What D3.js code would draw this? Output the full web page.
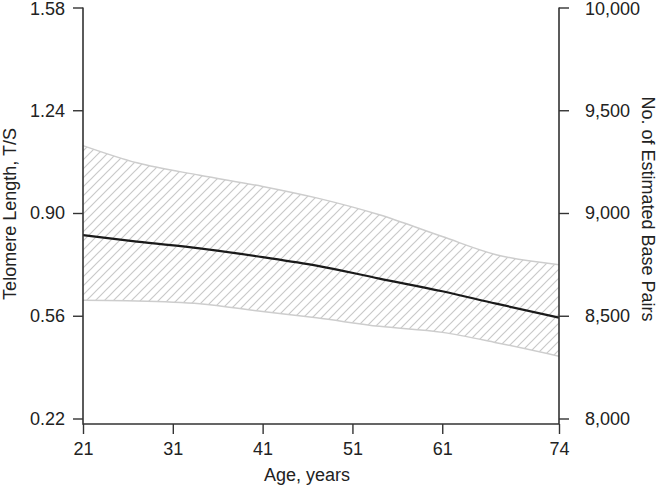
<!DOCTYPE html>
<html>
<head>
<meta charset="utf-8">
<script src="https://cdn.jsdelivr.net/npm/d3@7/dist/d3.min.js"></script>
<style>
  html, body { margin: 0; padding: 0; background: #fff; }
  svg { display: block; }
  text { font-family: "Liberation Sans", Arial, Helvetica, sans-serif; fill: #222; }
</style>
</head>
<body>
<svg id="chart" width="660" height="486"></svg>
<script>
// ---- data ----
const ages    = [21, 27, 34, 41, 47, 54, 61, 67, 74];
const tsMean  = [0.827, 0.805, 0.783, 0.754, 0.726, 0.683, 0.641, 0.600, 0.554];
const tsUpper = [1.123, 1.066, 1.025, 0.988, 0.950, 0.894, 0.822, 0.762, 0.729];
const tsLower = [0.611, 0.609, 0.600, 0.574, 0.553, 0.525, 0.505, 0.471, 0.426];

const xTicks      = [21, 31, 41, 51, 61, 74];
const yTicksLeft  = [0.22, 0.56, 0.90, 1.24, 1.58];
const yTicksRight = [8000, 8500, 9000, 9500, 10000];

const xTitle      = "Age, years";
const yLeftTitle  = "Telomere Length, T/S";
const yRightTitle = "No. of Estimated Base Pairs";

// ---- layout ----
const svg = d3.select("#chart");
const L = 83, R = 559, T = 7.5, B = 418.5, axisY = 424;
const fontSize = 18;

const x  = d3.scaleLinear().domain([21, 74]).range([L, R]);
const yL = d3.scaleLinear().domain([0.22, 1.58]).range([B, T]);
const yR = d3.scaleLinear().domain([8000, 10000]).range([B, T]);

// hatch pattern
const defs = svg.append("defs");
const pat = defs.append("pattern")
  .attr("id", "hatch")
  .attr("patternUnits", "userSpaceOnUse")
  .attr("width", 9).attr("height", 9);
pat.append("path")
  .attr("d", "M-1,1 l2,-2 M0,9 l9,-9 M8,10 l2,-2")
  .attr("stroke", "#c9c9c9")
  .attr("stroke-width", 1.2)
  .attr("fill", "none");

const rows = ages.map((a, i) => ({ a, m: tsMean[i], u: tsUpper[i], l: tsLower[i] }));
const curve = d3.curveMonotoneX;

// band
svg.append("path")
  .datum(rows)
  .attr("d", d3.area().x(d => x(d.a)).y0(d => yL(d.l)).y1(d => yL(d.u)).curve(curve))
  .attr("fill", "url(#hatch)")
  .attr("stroke", "none");
svg.append("path")
  .datum(rows)
  .attr("d", d3.line().x(d => x(d.a)).y(d => yL(d.u)).curve(curve))
  .attr("fill", "none").attr("stroke", "#cdcdcd").attr("stroke-width", 1.5);
svg.append("path")
  .datum(rows)
  .attr("d", d3.line().x(d => x(d.a)).y(d => yL(d.l)).curve(curve))
  .attr("fill", "none").attr("stroke", "#cdcdcd").attr("stroke-width", 1.5);

// mean line
svg.append("path")
  .datum(rows)
  .attr("d", d3.line().x(d => x(d.a)).y(d => yL(d.m)).curve(curve))
  .attr("fill", "none").attr("stroke", "#1a1a1a").attr("stroke-width", 2.2);

// axes
const axisColor = "#333";
function styleAxis(g) {
  g.select(".domain").remove();
  g.selectAll(".tick line").attr("stroke", axisColor).attr("stroke-width", 1.4);
  g.selectAll(".tick text").attr("font-size", fontSize).style("fill", "#222")
    .attr("font-family", "Liberation Sans, Arial, Helvetica, sans-serif");
}

const gl = svg.append("g")
  .attr("transform", `translate(${L},0)`)
  .call(d3.axisLeft(yL).tickValues(yTicksLeft).tickSize(10).tickPadding(8).tickFormat(d3.format(".2f")))
  .call(styleAxis);

const gr = svg.append("g")
  .attr("transform", `translate(${R},0)`)
  .call(d3.axisRight(yR).tickValues(yTicksRight).tickSize(10).tickPadding(16).tickFormat(d3.format(",")))
  .call(styleAxis);

// nudge the top-most tick labels slightly down so they sit inside the frame
gl.selectAll(".tick").filter(d => d === yTicksLeft[yTicksLeft.length - 1]).select("text").attr("y", 1.5);
gr.selectAll(".tick").filter(d => d === yTicksRight[yTicksRight.length - 1]).select("text").attr("y", 1.5);

svg.append("g")
  .attr("transform", `translate(0,${axisY})`)
  .call(d3.axisBottom(x).tickValues(xTicks).tickSize(10).tickPadding(8).tickFormat(d3.format("d")))
  .call(styleAxis);

// axis lines
svg.append("path")
  .attr("d", `M${L},${T}V${axisY}H${R}V${T}`)
  .attr("fill", "none").attr("stroke", axisColor).attr("stroke-width", 1.6);

// titles
svg.append("text")
  .attr("x", 307).attr("y", 481)
  .attr("text-anchor", "middle")
  .attr("font-size", fontSize)
  .text(xTitle);

svg.append("text")
  .attr("transform", `translate(16,214) rotate(-90)`)
  .attr("text-anchor", "middle")
  .attr("font-size", fontSize)
  .text(yLeftTitle);

svg.append("text")
  .attr("transform", `translate(642,209) rotate(90)`)
  .attr("text-anchor", "middle")
  .attr("font-size", fontSize)
  .text(yRightTitle);
</script>
</body>
</html>
